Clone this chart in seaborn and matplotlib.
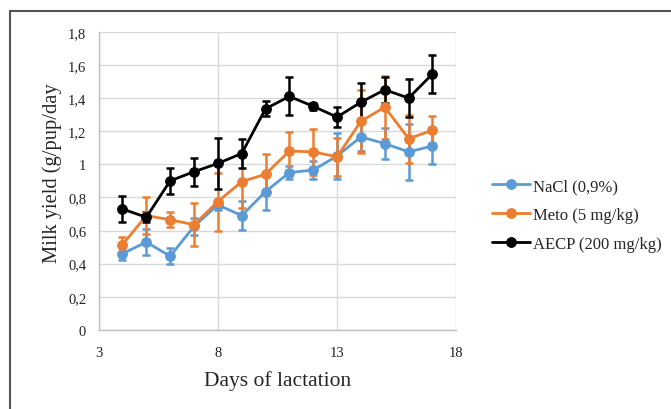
import numpy as np
import pandas as pd
import matplotlib
matplotlib.use("Agg")
import matplotlib.pyplot as plt
from matplotlib.lines import Line2D
from matplotlib.ticker import FuncFormatter
import seaborn as sns

# data
days = [4, 5, 6, 7, 8, 9, 10, 11, 12, 13, 14, 15, 16, 17]
nacl = [0.46, 0.53, 0.445, 0.625, 0.755, 0.69, 0.835, 0.95, 0.965, 1.05, 1.165, 1.125, 1.075, 1.11]
nacl_err = [0.04, 0.08, 0.048, 0.05, 0.03, 0.087, 0.11, 0.04, 0.055, 0.14, 0.085, 0.095, 0.17, 0.11]
meto = [0.515, 0.69, 0.665, 0.635, 0.775, 0.895, 0.94, 1.08, 1.075, 1.045, 1.26, 1.345, 1.155, 1.205]
meto_err = [0.047, 0.11, 0.045, 0.13, 0.175, 0.16, 0.12, 0.117, 0.14, 0.115, 0.19, 0.19, 0.145, 0.085]
aecp = [0.73, 0.68, 0.90, 0.955, 1.005, 1.065, 1.335, 1.41, 1.35, 1.285, 1.375, 1.45, 1.40, 1.545]
aecp_err = [0.077, 0.03, 0.08, 0.085, 0.155, 0.09, 0.045, 0.115, 0.02, 0.062, 0.115, 0.08, 0.115, 0.115]

series_names = ["NaCl (0,9%)", "Meto (5 mg/kg)", "AECP (200 mg/kg)"]
colors = ["#5B9BD5", "#ED7D31", "#000000"]

df = pd.concat([
    pd.DataFrame({"day": days, "yield": v, "err": e, "group": n})
    for v, e, n in zip([nacl, meto, aecp], [nacl_err, meto_err, aecp_err], series_names)
])

sns.set_style("white")
plt.rcParams["font.family"] = ["Liberation Serif", "DejaVu Serif"]

fig = plt.figure(figsize=(6.71, 4.10), dpi=100)
ax = fig.add_axes([0.147, 0.193, 0.533, 0.727])

for name, col in zip(series_names, colors):
    sub = df[df["group"] == name]
    ax.errorbar(sub["day"], sub["yield"], yerr=sub["err"], fmt="none",
                ecolor=col, elinewidth=1.8, capsize=3, capthick=1.8, zorder=3)
    sns.lineplot(data=sub, x="day", y="yield", ax=ax, color=col, marker="o",
                 markersize=7, markeredgecolor=col, linewidth=2, label=name,
                 errorbar=None, zorder=4)

ax.set_xlim(3, 18)
ax.set_ylim(0, 1.8)
ax.set_xticks([3, 8, 13, 18])
ax.set_yticks(np.arange(0, 1.81, 0.2))
ax.yaxis.set_major_formatter(FuncFormatter(lambda v, p: f"{v:.1f}".rstrip("0").rstrip(".").replace(".", ",")))
ax.grid(True, color="#D9D9D9", linewidth=1)
ax.set_axisbelow(True)
for s in ["top", "right"]:
    ax.spines[s].set_visible(False)
for s in ["left", "bottom"]:
    ax.spines[s].set_color("#BFBFBF")
    ax.spines[s].set_linewidth(1)
ax.tick_params(length=0, labelsize=10.5, colors="#222222")
ax.tick_params(axis="x", pad=11.5)
ax.tick_params(axis="y", pad=9)

ax.set_xlabel("Days of lactation", fontsize=15.5, labelpad=8)
ax.set_ylabel("Milk yield (g/pup/day", fontsize=14.8)
ax.yaxis.set_label_coords(-0.103, 0.53)

leg = ax.legend(loc="center left", bbox_to_anchor=(0.733, 0.473), bbox_transform=fig.transFigure,
                frameon=False, fontsize=12, handlelength=2.3, handletextpad=0.15,
                labelspacing=0.78, borderpad=0, borderaxespad=0, numpoints=1)

# outer frame (only top/left visible in the crop)
fig.add_artist(Line2D([10 / 671, 10 / 671], [0, 1 - 12 / 410], color="#555555", linewidth=1.5))
fig.add_artist(Line2D([10 / 671, 1], [1 - 12 / 410, 1 - 12 / 410], color="#555555", linewidth=1.5))

fig.savefig("out.png", dpi=100)
